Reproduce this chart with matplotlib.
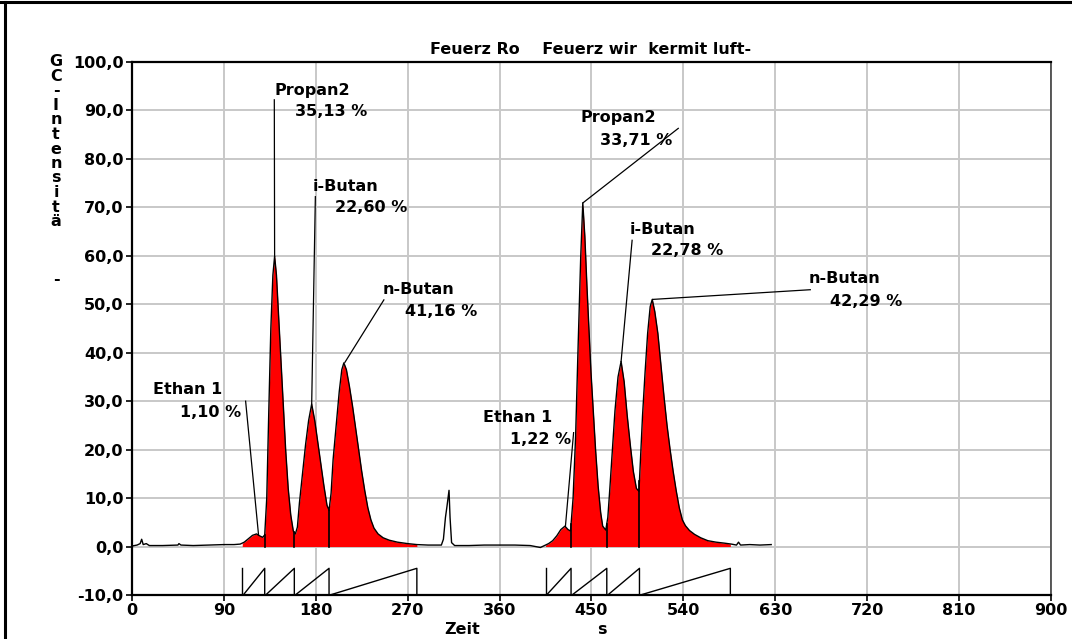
import numpy as np
import matplotlib.pyplot as plt
from matplotlib.lines import Line2D

# chromatogram trace (time in s, intensity)
zeit = [0, 5, 8, 9.5, 11, 14, 17, 30, 45, 46, 48, 60, 75, 90, 100, 106, 110, 114, 118,
        122, 125, 128, 130, 132, 134, 136, 138, 139.7, 141.5, 143.5, 145.5, 148, 150.5,
        153, 155.5, 158, 160, 162, 164, 167, 170, 173, 176, 179, 182, 185, 188, 191, 193,
        195, 197, 200, 203, 205.5, 207.5, 210, 213, 216, 219, 222, 225, 228, 231, 234,
        237, 241, 246, 252, 260, 270, 279, 290, 303, 305, 307, 308.5, 310.5, 311.5, 313,
        316, 330, 345, 360, 375, 390, 400, 404, 408, 412, 416, 420, 424, 427, 429.5, 432,
        434.5, 437, 439.5, 441.5, 443.5, 445.5, 447.5, 449.5, 451.5, 454, 456.5, 459, 461,
        464, 466, 468, 470.5, 473, 476, 479, 482, 485, 488, 491, 494, 496.5, 498, 500,
        502.5, 505, 507.5, 509.5, 512, 515, 518, 521, 524, 527, 530, 533, 536, 539, 542,
        546, 551, 557, 564, 572, 580, 587, 592, 594, 596, 605, 615, 626]
intens = [0.1, 0.3, 0.6, 1.5, 0.4, 0.6, 0.2, 0.2, 0.3, 0.6, 0.3, 0.2, 0.3, 0.4, 0.4, 0.5,
          0.9, 1.6, 2.3, 2.6, 2.2, 1.9, 2.4, 10, 28, 45, 56, 59.9, 56, 48, 40, 30, 20, 12,
          6.5, 3.2, 2.6, 4, 9, 15, 21, 26, 29.4, 26, 21.5, 17, 12.5, 8.5, 7.5, 11, 18, 25,
          32, 36.5, 37.9, 36.5, 33, 29, 24.5, 20, 15.5, 11.5, 8, 5.5, 3.8, 2.6, 1.8, 1.3,
          0.9, 0.6, 0.4, 0.3, 0.3, 1.5, 6, 8.3, 11.6, 6, 0.8, 0.2, 0.2, 0.3, 0.3, 0.3, 0.2,
          -0.2, 0.2, 0.6, 1.2, 2.2, 3.5, 4.2, 3.5, 3.2, 10, 23, 42, 60, 70.9, 64, 54, 45,
          36, 29, 20, 12.5, 7, 4.2, 3.4, 6, 12, 20, 28, 35, 38.2, 34, 27, 21, 15.5, 12,
          11.4, 18, 27, 36, 44, 49.5, 51, 48.5, 44, 37.5, 31, 25, 20, 15.5, 11.5, 8, 5.5,
          4.3, 3.3, 2.5, 1.8, 1.2, 0.9, 0.7, 0.5, 0.3, 0.9, 0.3, 0.4, 0.3, 0.4]

# integration segment limits (peak start / end times) for both runs
grenzen_1 = [108, 130, 159, 193, 279]
grenzen_2 = [405, 430, 465, 497, 586]

# peak labels: name, percentage, apex (t, I), leader end (t, I)
namen = ['Ethan 1', 'Propan2', 'i-Butan', 'n-Butan',
         'Ethan 1', 'Propan2', 'i-Butan', 'n-Butan']
prozente = ['1,10 %', '35,13 %', '22,60 %', '41,16 %',
            '1,22 %', '33,71 %', '22,78 %', '42,29 %']
spitzen = [(124, 2.3), (139.7, 59.9), (176, 29.4), (208.5, 38),
           (424.5, 4.2), (441.5, 70.9), (479, 38.2), (510, 51)]
leit_enden = [(111.3, 30), (139.4, 92.2), (179.6, 72.2), (246.7, 50.9),
              (432.5, 23.5), (535, 86.3), (489.8, 63.2), (664.3, 53)]
# where the two text lines of each label sit
name_pos = [(20.6, 32.4), (140, 94.2), (177.3, 74.2), (245.8, 53),
            (343.7, 26.6), (439.4, 88.5), (487.7, 65.4), (663, 55.3)]
proz_pos = [(47, 27.6), (159.6, 89.7), (198.8, 69.9), (267.4, 48.5),
            (370.2, 22.1), (458.3, 83.8), (508.3, 61), (683.6, 50.5)]

titel = 'Feuerz Ro    Feuerz wir  kermit luft-'
ylabel = 'GC-Intensitä   -'

plt.rcParams['font.family'] = 'DejaVu Sans'
plt.rcParams['font.weight'] = 'bold'
fs = 11.5

fig = plt.figure(figsize=(10.72, 6.39), dpi=100)
ax = fig.add_axes([0.1231, 0.0689, 0.9804 - 0.1231, 0.9030 - 0.0689])

t = np.array(zeit)
y = np.array(intens)

# red filled peak areas
for gr in (grenzen_1, grenzen_2):
    tt = np.linspace(gr[0], gr[-1], 600)
    ax.fill_between(tt, 0, np.interp(tt, t, y), color='#ff0000', lw=0, zorder=2)
    # drop lines between peaks
    for g in gr[1:-1]:
        ax.plot([g, g], [0, np.interp(g, t, y)], color='black', lw=1.2, zorder=4)
    # integration saw teeth below the baseline
    ax.plot([gr[0], gr[0]], [-10, -4.5], color='black', lw=1, zorder=4)
    for a, b in zip(gr[:-1], gr[1:]):
        ax.plot([a + 1, b, b], [-10, -4.5, -10], color='black', lw=1, zorder=4)

ax.plot(t, y, color='black', lw=1, zorder=3)

for i in range(len(namen)):
    ax.plot([spitzen[i][0], leit_enden[i][0]], [spitzen[i][1], leit_enden[i][1]],
            color='black', lw=0.9, zorder=5)
    ax.text(name_pos[i][0], name_pos[i][1], namen[i], fontsize=fs, fontweight='bold',
            ha='left', va='center', zorder=6)
    ax.text(proz_pos[i][0], proz_pos[i][1], prozente[i], fontsize=fs, fontweight='bold',
            ha='left', va='center', zorder=6)

ax.set_xlim(0, 900)
ax.set_ylim(-10, 100)
ax.set_xticks(np.arange(0, 901, 90))
ax.set_yticks(np.arange(-10, 101, 10))
ax.set_yticklabels([f'{v:.1f}'.replace('.', ',') for v in np.arange(-10, 101, 10)])
ax.grid(True, color='#c8c8c8', lw=1.4, zorder=0)
ax.set_axisbelow(True)
ax.tick_params(direction='out', length=4, width=1.2, color='black', labelsize=fs,
               pad=2)
for lab in ax.get_xticklabels() + ax.get_yticklabels():
    lab.set_fontweight('bold')
for s in ('left', 'bottom', 'top'):
    ax.spines[s].set_linewidth(1.6)
    ax.spines[s].set_color('black')
ax.spines['right'].set_linewidth(1.2)
ax.spines['right'].set_color('#404040')

fig.text(591 / 1072, 1 - 49 / 639, titel, ha='center', va='center', fontsize=fs,
         fontweight='bold')
fig.text(462 / 1072, 1 - 630 / 639, 'Zeit', ha='center', va='center', fontsize=fs,
         fontweight='bold')
fig.text(602 / 1072, 1 - 630 / 639, 's', ha='center', va='center', fontsize=fs,
         fontweight='bold')
for i, ch in enumerate(ylabel):
    if ch != ' ':
        fig.text(56 / 1072, 1 - (62 + i * 14.5) / 639, ch, ha='center', va='center',
                 fontsize=fs, fontweight='bold')

# window frame at top and left
fig.add_artist(Line2D([0, 1], [1 - 2 / 639] * 2, color='black', lw=2.2))
fig.add_artist(Line2D([5 / 1072] * 2, [0, 1 - 2 / 639], color='black', lw=2.2))

fig.savefig('out.png', dpi=100)
